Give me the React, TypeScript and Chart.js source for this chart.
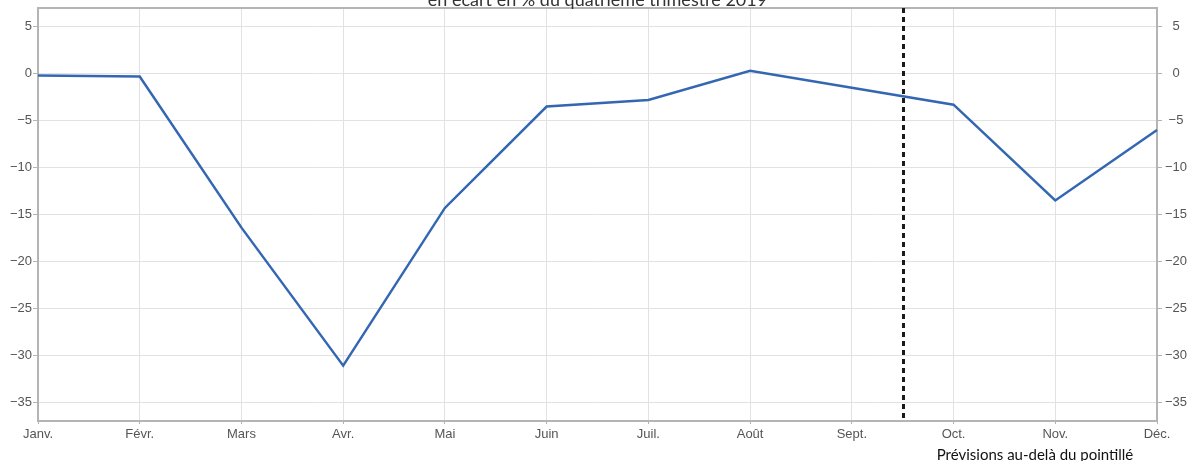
import React, { useEffect, useRef } from "react";
import { Chart, registerables } from "chart.js";

Chart.register(...registerables);

// Monthly activity, deviation from Q4 2019 (%)
const months = ["Janv.", "Févr.", "Mars", "Avr.", "Mai", "Juin", "Juil.", "Août", "Sept.", "Oct.", "Nov.", "Déc."];
const activity = [-0.2, -0.3, -16.4, -31.1, -14.3, -3.5, -2.8, 0.3, -1.5, -3.3, -13.5, -6.0];
const yTicks = [5, 0, -5, -10, -15, -20, -25, -30, -35];
const forecastStart = 8.5; // forecasts begin between Sept. and Oct.

const titleText = "en écart en % du quatrième trimestre 2019";
const noteText = "Prévisions au-delà du pointillé";

const tickFont = { family: "'Liberation Sans', Arial, sans-serif", size: 13 };
const tickColor = "#555";
const axisGrey = "#b4b4b4";
const gridGrey = "#e2e2e2";

const fmt = (v: number) => String(v).replace("-", "\u2212");

const overlay = {
  id: "overlay",
  beforeDatasetsDraw(chart: any) {
    const { ctx, chartArea } = chart;
    ctx.save();
    ctx.strokeStyle = axisGrey;
    ctx.lineWidth = 2;
    ctx.strokeRect(chartArea.left, chartArea.top, chartArea.right - chartArea.left, chartArea.bottom - chartArea.top);
    ctx.restore();
  },
  afterDatasetsDraw(chart: any) {
    const { ctx, chartArea, scales } = chart;
    const x = Math.round(scales.x.getPixelForValue(forecastStart)) + 0.5;
    ctx.save();
    ctx.strokeStyle = "#1a1a1a";
    ctx.lineWidth = 3;
    ctx.setLineDash([5, 4]);
    ctx.beginPath();
    ctx.moveTo(x, chartArea.top);
    ctx.lineTo(x, chartArea.bottom);
    ctx.stroke();
    ctx.restore();
  },
  afterDraw(chart: any) {
    const { ctx, chartArea } = chart;
    ctx.save();
    ctx.fillStyle = "#333";
    ctx.font = "18px Lato, 'Open Sans', sans-serif";
    ctx.textAlign = "center";
    ctx.textBaseline = "alphabetic";
    ctx.fillText(titleText, (chartArea.left + chartArea.right) / 2, 6);
    ctx.fillStyle = "#111";
    ctx.font = "15px Lato, 'Open Sans', sans-serif";
    ctx.fillText(noteText, 1035, 460);
    ctx.restore();
  },
};

export default function App() {
  const ref = useRef<HTMLCanvasElement>(null);

  useEffect(() => {
    if (!ref.current) return;
    const keepTicks = (scale: any) => {
      scale.ticks = yTicks.map((v) => ({ value: v }));
    };
    const chart = new Chart(ref.current, {
      type: "line",
      data: {
        labels: months,
        datasets: [
          {
            data: activity,
            borderColor: "#3467b2",
            borderWidth: 2.5,
            pointRadius: 0,
            tension: 0,
            fill: false,
          },
        ],
      },
      options: {
        responsive: false,
        animation: false,
        layout: { padding: { top: 8, left: 0, right: 0, bottom: 0 } },
        plugins: { legend: { display: false }, tooltip: { enabled: false }, title: { display: false } },
        scales: {
          x: {
            type: "category",
            offset: false,
            grid: { color: gridGrey, tickColor: axisGrey, tickLength: 3, drawOnChartArea: true },
            border: { display: false },
            ticks: { font: tickFont, color: tickColor, padding: 3, maxRotation: 0, autoSkip: false },
            afterFit: (s: any) => {
              s.height = 40;
              s.paddingLeft = 0;
              s.paddingRight = 0;
            },
          },
          y: {
            position: "left",
            min: -37,
            max: 7,
            grid: { color: gridGrey, tickColor: axisGrey, tickLength: 5 },
            border: { display: false },
            ticks: { font: tickFont, color: tickColor, padding: 1, callback: (v: any) => fmt(v) },
            afterBuildTicks: keepTicks,
            afterFit: (s: any) => {
              s.width = 38;
              s.paddingTop = 0;
              s.paddingBottom = 0;
            },
          },
          y2: {
            position: "right",
            min: -37,
            max: 7,
            grid: { drawOnChartArea: false, tickColor: axisGrey, tickLength: 5 },
            border: { display: false },
            ticks: { font: tickFont, color: tickColor, padding: 3, crossAlign: "center", callback: (v: any) => fmt(v) },
            afterBuildTicks: keepTicks,
            afterFit: (s: any) => {
              s.width = 32;
              s.paddingTop = 0;
              s.paddingBottom = 0;
            },
          },
        },
      },
      plugins: [overlay],
    });
    return () => chart.destroy();
  }, []);

  return (
    <div style={{ position: "fixed", left: 0, top: 0, width: 1189, height: 461, background: "#fff" }}>
      <canvas ref={ref} width={1189} height={461} style={{ display: "block" }} />
    </div>
  );
}
